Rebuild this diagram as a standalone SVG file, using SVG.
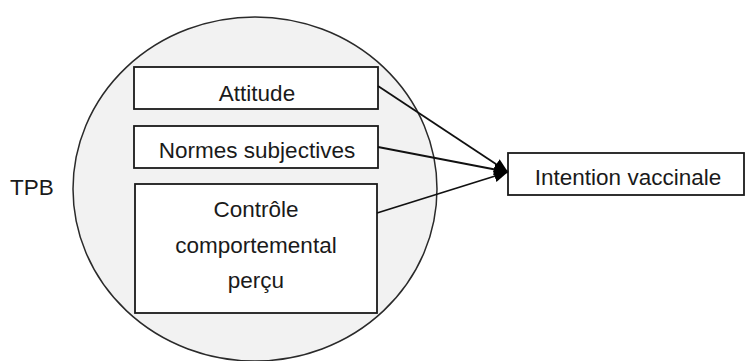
<svg xmlns="http://www.w3.org/2000/svg" width="746" height="361" viewBox="0 0 746 361">
<style>
.box{fill:#ffffff;stroke:#1a1a1a;stroke-width:1.8}
.t{font-family:"Liberation Sans",Arial,sans-serif;font-size:22.5px;fill:#1a1a1a;text-anchor:middle}
.c{stroke:#111;stroke-width:1.8;fill:none}
</style>
<defs>
<marker id="ah" markerWidth="14" markerHeight="12" refX="14" refY="6" orient="auto" markerUnits="userSpaceOnUse" viewBox="0 0 14 12">
<path d="M0,0 L14,6 L0,12 Z" fill="#000"/>
</marker>
</defs>
<rect width="746" height="361" fill="#ffffff"/>
<g id="tpb">
<ellipse cx="255" cy="189" rx="182" ry="172" fill="#f2f2f2" stroke="#2a2a2a" stroke-width="1.5"/>
<text class="t" x="32" y="195">TPB</text>
</g>
<g id="attitude">
<rect class="box" x="134" y="67" width="244" height="42"/>
<text class="t" x="257" y="101">Attitude</text>
</g>
<g id="normes">
<rect class="box" x="134" y="126" width="244" height="42"/>
<text class="t" x="257" y="158">Normes subjectives</text>
</g>
<g id="controle">
<rect class="box" x="135" y="184" width="242" height="129"/>
<text class="t" x="256" y="217">Contrôle</text>
<text class="t" x="256" y="253">comportemental</text>
<text class="t" x="256" y="288">perçu</text>
</g>
<g id="intention">
<rect class="box" x="508" y="153" width="236" height="42"/>
<text class="t" x="628" y="185">Intention vaccinale</text>
</g>
<g id="connectors">
<line class="c" x1="378" y1="86" x2="508" y2="172" marker-end="url(#ah)"/>
<line class="c" x1="378" y1="147" x2="508" y2="172" marker-end="url(#ah)"/>
<line class="c" x1="377" y1="213" x2="508" y2="172" marker-end="url(#ah)"/>
</g>
</svg>
